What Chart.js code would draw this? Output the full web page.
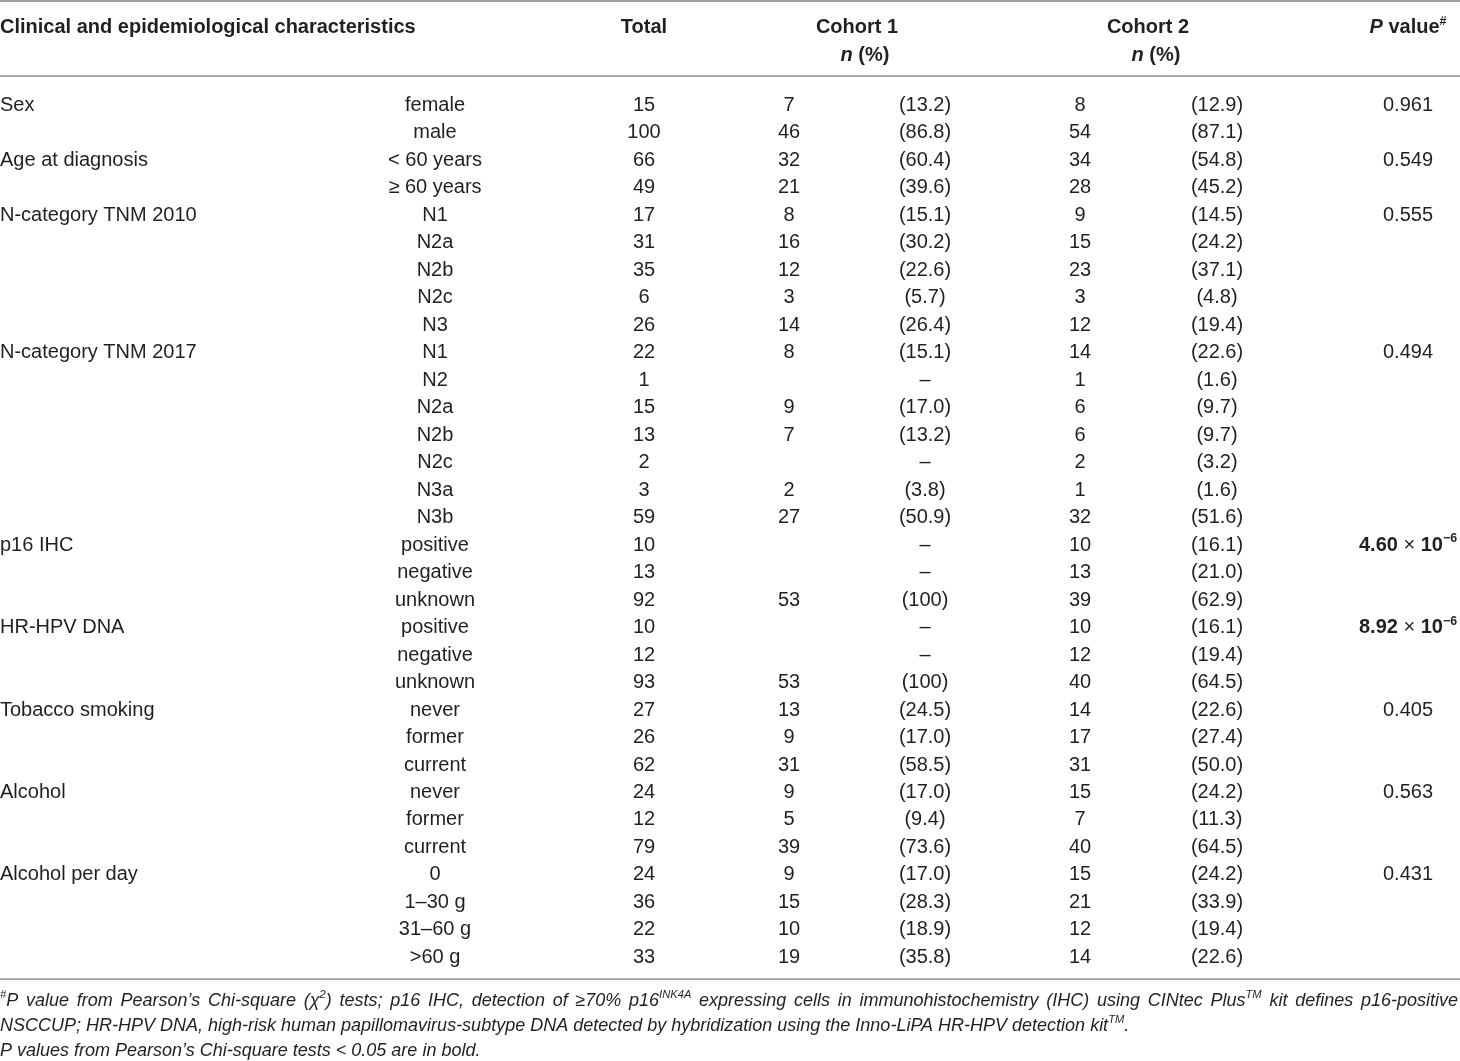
<!DOCTYPE html>
<html><head><meta charset="utf-8">
<script src="https://cdn.jsdelivr.net/npm/chart.js@4.4.1/dist/chart.umd.min.js"></script>
<style>html,body{margin:0;padding:0;background:#fff;}#wrap{width:1460px;height:1061px;}</style>
</head><body><div id="wrap"><canvas id="c" width="1460" height="1061"></canvas></div>
<script>
// ---- data ----
const categories = ["Sex","Age at diagnosis","N-category TNM 2010","N-category TNM 2017","p16 IHC","HR-HPV DNA","Tobacco smoking","Alcohol","Alcohol per day"];
const groupSizes = [2,2,5,7,3,3,3,3,4];
const subcategories = ["female","male","< 60 years","\u2265 60 years","N1","N2a","N2b","N2c","N3","N1","N2","N2a","N2b","N2c","N3a","N3b","positive","negative","unknown","positive","negative","unknown","never","former","current","never","former","current","0","1\u201330 g","31\u201360 g",">60 g"];
const total = [15,100,66,49,17,31,35,6,26,22,1,15,13,2,3,59,10,13,92,10,12,93,27,26,62,24,12,79,24,36,22,33];
const cohort1N = [7,46,32,21,8,16,12,3,14,8,null,9,7,null,2,27,null,null,53,null,null,53,13,9,31,9,5,39,9,15,10,19];
const cohort1Pct = ["13.2","86.8","60.4","39.6","15.1","30.2","22.6","5.7","26.4","15.1",null,"17.0","13.2",null,"3.8","50.9",null,null,"100",null,null,"100","24.5","17.0","58.5","17.0","9.4","73.6","17.0","28.3","18.9","35.8"];
const cohort2N = [8,54,34,28,9,15,23,3,12,14,1,6,6,2,1,32,10,13,39,10,12,40,14,17,31,15,7,40,15,21,12,14];
const cohort2Pct = ["12.9","87.1","54.8","45.2","14.5","24.2","37.1","4.8","19.4","22.6","1.6","9.7","9.7","3.2","1.6","51.6","16.1","21.0","62.9","16.1","19.4","64.5","22.6","27.4","50.0","24.2","11.3","64.5","24.2","33.9","19.4","22.6"];
const pValues = ["0.961","0.549","0.555","0.494",{m:"4.60",e:"\u22126"},{m:"8.92",e:"\u22126"},"0.405","0.563","0.431"];
const columnHeaders = ["Clinical and epidemiological characteristics","Total","Cohort 1","Cohort 2"];

// ---- layout / style ----
const FONT = '"Liberation Sans", Arial, sans-serif';
const FS = 20;
const INK = '#231f20';
const RULE = '#a0a0a0';
const colX = {cat:0, sub:435, total:644, c1n:789, c1p:925, c2n:1080, c2p:1217, p:1408};
const rowY = {head1:-2.84, head2:-1.82, lineTop:-4.0, lineHead:-1.27, lineBottom:31.59, foot:[32.57,33.48,34.39]};

function font(style, size){
  let s = '';
  if (style.includes('i')) s += 'italic ';
  if (style.includes('b')) s += 'bold ';
  return s + size + 'px ' + FONT;
}
function segWidth(ctx, seg, size){
  const sz = seg[2] ? size*0.62 : size;
  ctx.font = font(seg[1], sz);
  return ctx.measureText(seg[0]).width;
}
function drawRich(ctx, segs, x, y, size, align, justifyWidth){
  let tokens = [];
  segs.forEach(s => {
    if (justifyWidth){
      const parts = s[0].split(/( )/);
      parts.forEach(p => { if (p.length) tokens.push([p, s[1], s[2], p === ' ']); });
    } else tokens.push([s[0], s[1], s[2], false]);
  });
  let w = 0, spaces = 0;
  tokens.forEach(t => { t.w = segWidth(ctx, t, size); w += t.w; if (t[3]) spaces++; });
  let extra = 0;
  if (justifyWidth && spaces) extra = (justifyWidth - w) / spaces;
  let cx = x;
  if (align === 'center') cx = x - w/2;
  else if (align === 'right') cx = x - w;
  tokens.forEach(t => {
    const sz = t[2] ? size*0.62 : size;
    ctx.font = font(t[1], sz);
    ctx.fillText(t[0], cx, t[2] ? y - size*0.42 : y);
    cx += t.w + (t[3] ? extra : 0);
  });
}

const tablePlugin = {
  id: 'tableText',
  afterDraw(chart){
    const ctx = chart.ctx, xs = chart.scales.x, ys = chart.scales.y;
    const X = k => xs.getPixelForValue(colX[k]);
    const Y = v => ys.getPixelForValue(v);
    ctx.save();
    ctx.textBaseline = 'alphabetic';
    ctx.fillStyle = INK;
    ctx.strokeStyle = RULE;
    [[rowY.lineTop,2],[rowY.lineHead,1.6],[rowY.lineBottom,1.6]].forEach(([v,lw]) => {
      ctx.lineWidth = lw;
      ctx.beginPath(); ctx.moveTo(xs.left, Y(v)); ctx.lineTo(xs.right, Y(v)); ctx.stroke();
    });
    drawRich(ctx, [[columnHeaders[0],'b',false]], X('cat'), Y(rowY.head1), FS, 'left');
    drawRich(ctx, [[columnHeaders[1],'b',false]], X('total'), Y(rowY.head1), FS, 'center');
    drawRich(ctx, [[columnHeaders[2],'b',false]], xs.getPixelForValue(857), Y(rowY.head1), FS, 'center');
    drawRich(ctx, [['n','bi',false],[' (%)','b',false]], xs.getPixelForValue(865), Y(rowY.head2), FS, 'center');
    drawRich(ctx, [[columnHeaders[3],'b',false]], xs.getPixelForValue(1148), Y(rowY.head1), FS, 'center');
    drawRich(ctx, [['n','bi',false],[' (%)','b',false]], xs.getPixelForValue(1156), Y(rowY.head2), FS, 'center');
    drawRich(ctx, [['P','bi',false],[' value','b',false],['#','b',true]], X('p'), Y(rowY.head1), FS, 'center');
    let r = 0;
    categories.forEach((cat, g) => {
      drawRich(ctx, [[cat,'',false]], X('cat'), Y(r), FS, 'left');
      const pv = pValues[g];
      if (typeof pv === 'string') drawRich(ctx, [[pv,'',false]], X('p'), Y(r), FS, 'center');
      else drawRich(ctx, [[pv.m,'b',false],[' \u00d7 ','',false],['10','b',false],[pv.e,'b',true]], X('p'), Y(r), FS, 'center');
      for (let k = 0; k < groupSizes[g]; k++, r++){
        const y = Y(r);
        drawRich(ctx, [[subcategories[r],'',false]], X('sub'), y, FS, 'center');
        drawRich(ctx, [[String(total[r]),'',false]], X('total'), y, FS, 'center');
        if (cohort1N[r] !== null) drawRich(ctx, [[String(cohort1N[r]),'',false]], X('c1n'), y, FS, 'center');
        drawRich(ctx, [[cohort1Pct[r] === null ? '\u2013' : '(' + cohort1Pct[r] + ')','',false]], X('c1p'), y, FS, 'center');
        if (cohort2N[r] !== null) drawRich(ctx, [[String(cohort2N[r]),'',false]], X('c2n'), y, FS, 'center');
        drawRich(ctx, [[cohort2Pct[r] === null ? '\u2013' : '(' + cohort2Pct[r] + ')','',false]], X('c2p'), y, FS, 'center');
      }
    });
    const FF = 18;
    drawRich(ctx, [['#','i',true],['P value from Pearson\u2019s Chi-square (','i',false],['\u03c7','i',false],['2','i',true],[') tests; p16 IHC, detection of \u226570% p16','i',false],['INK4A','i',true],[' expressing cells in immunohistochemistry (IHC) using CINtec Plus','i',false],['TM','i',true],[' kit defines p16-positive','i',false]], 0, Y(rowY.foot[0]), FF, 'left', xs.right - 2);
    drawRich(ctx, [['NSCCUP; HR-HPV DNA, high-risk human papillomavirus-subtype DNA detected by hybridization using the Inno-LiPA HR-HPV detection kit','i',false],['TM','i',true],['.','i',false]], 0, Y(rowY.foot[1]), FF, 'left');
    drawRich(ctx, [['P values from Pearson\u2019s Chi-square tests < 0.05 are in bold.','i',false]], 0, Y(rowY.foot[2]), FF, 'left');
    ctx.restore();
  }
};

new Chart(document.getElementById('c'), {
  type: 'scatter',
  data: { datasets: [{ data: [], pointRadius: 0 }] },
  options: {
    responsive: false, animation: false, devicePixelRatio: 1,
    layout: { padding: 0 },
    plugins: { legend: {display:false}, tooltip: {enabled:false} },
    scales: {
      x: { type:'linear', min:0, max:1460, display:false },
      y: { type:'linear', min:-4.039, max:34.57, reverse:true, display:false }
    }
  },
  plugins: [tablePlugin]
});
</script></body></html>
